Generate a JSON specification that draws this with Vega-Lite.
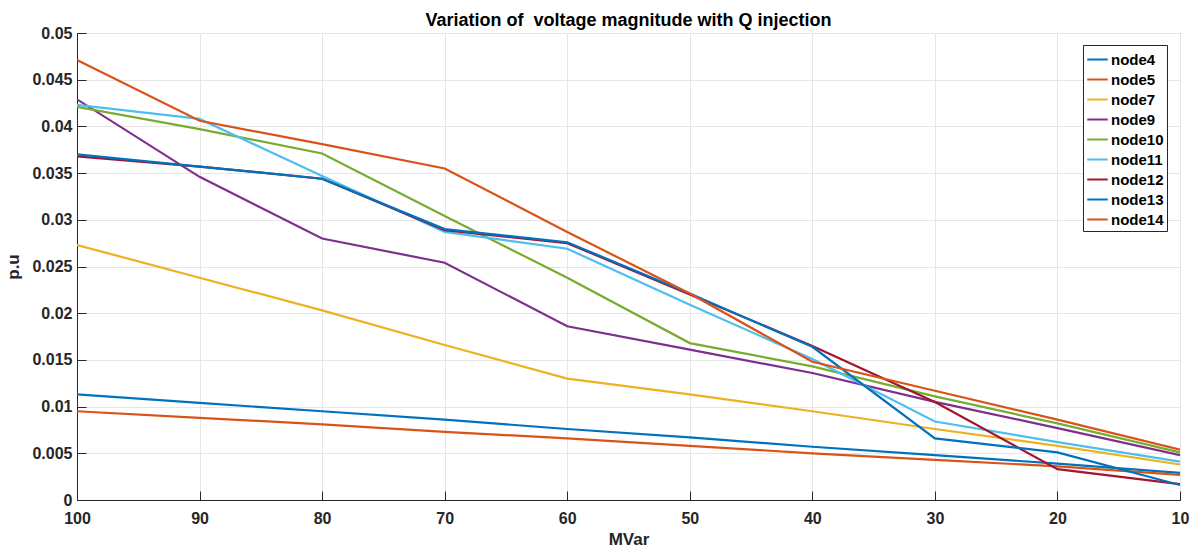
{
  "$schema": "https://vega.github.io/schema/vega-lite/v6.json",
  "width": 1103,
  "height": 467,
  "autosize": {"type": "none"},
  "padding": {"left": 77, "top": 33, "right": 20, "bottom": 53},
  "background": "white",
  "config": {
    "font": "Liberation Sans",
    "view": {"stroke": "#262626", "strokeWidth": 1}
  },
  "title": {
    "text": "Variation of\u00a0 voltage magnitude with Q injection",
    "font": "Liberation Sans",
    "fontSize": 18,
    "fontWeight": "bold",
    "color": "#000000",
    "anchor": "middle",
    "offset": -5
  },
  "data": {
    "values": [
      {"node": "node4", "mvar": 100, "pu": 0.0113},
      {"node": "node4", "mvar": 90, "pu": 0.0104},
      {"node": "node4", "mvar": 80, "pu": 0.0095},
      {"node": "node4", "mvar": 70, "pu": 0.0086},
      {"node": "node4", "mvar": 60, "pu": 0.0076},
      {"node": "node4", "mvar": 50, "pu": 0.0067},
      {"node": "node4", "mvar": 40, "pu": 0.0057},
      {"node": "node4", "mvar": 30, "pu": 0.0048},
      {"node": "node4", "mvar": 20, "pu": 0.0039},
      {"node": "node4", "mvar": 10, "pu": 0.0029},

      {"node": "node5", "mvar": 100, "pu": 0.0095},
      {"node": "node5", "mvar": 90, "pu": 0.0088},
      {"node": "node5", "mvar": 80, "pu": 0.0081},
      {"node": "node5", "mvar": 70, "pu": 0.0073},
      {"node": "node5", "mvar": 60, "pu": 0.0066},
      {"node": "node5", "mvar": 50, "pu": 0.0058},
      {"node": "node5", "mvar": 40, "pu": 0.0050},
      {"node": "node5", "mvar": 30, "pu": 0.0043},
      {"node": "node5", "mvar": 20, "pu": 0.0036},
      {"node": "node5", "mvar": 10, "pu": 0.0027},

      {"node": "node7", "mvar": 100, "pu": 0.0273},
      {"node": "node7", "mvar": 90, "pu": 0.0238},
      {"node": "node7", "mvar": 80, "pu": 0.0203},
      {"node": "node7", "mvar": 70, "pu": 0.0166},
      {"node": "node7", "mvar": 60, "pu": 0.0130},
      {"node": "node7", "mvar": 50, "pu": 0.0113},
      {"node": "node7", "mvar": 40, "pu": 0.0095},
      {"node": "node7", "mvar": 30, "pu": 0.0076},
      {"node": "node7", "mvar": 20, "pu": 0.0058},
      {"node": "node7", "mvar": 10, "pu": 0.0038},

      {"node": "node9", "mvar": 100, "pu": 0.0429},
      {"node": "node9", "mvar": 90, "pu": 0.0346},
      {"node": "node9", "mvar": 80, "pu": 0.0280},
      {"node": "node9", "mvar": 70, "pu": 0.0254},
      {"node": "node9", "mvar": 60, "pu": 0.0186},
      {"node": "node9", "mvar": 50, "pu": 0.0161},
      {"node": "node9", "mvar": 40, "pu": 0.0136},
      {"node": "node9", "mvar": 30, "pu": 0.0105},
      {"node": "node9", "mvar": 20, "pu": 0.0077},
      {"node": "node9", "mvar": 10, "pu": 0.0048},

      {"node": "node10", "mvar": 100, "pu": 0.0421},
      {"node": "node10", "mvar": 90, "pu": 0.0397},
      {"node": "node10", "mvar": 80, "pu": 0.0371},
      {"node": "node10", "mvar": 70, "pu": 0.0304},
      {"node": "node10", "mvar": 60, "pu": 0.0238},
      {"node": "node10", "mvar": 50, "pu": 0.0168},
      {"node": "node10", "mvar": 40, "pu": 0.0143},
      {"node": "node10", "mvar": 30, "pu": 0.0111},
      {"node": "node10", "mvar": 20, "pu": 0.0082},
      {"node": "node10", "mvar": 10, "pu": 0.0051},

      {"node": "node11", "mvar": 100, "pu": 0.0423},
      {"node": "node11", "mvar": 90, "pu": 0.0408},
      {"node": "node11", "mvar": 80, "pu": 0.0347},
      {"node": "node11", "mvar": 70, "pu": 0.0287},
      {"node": "node11", "mvar": 60, "pu": 0.0269},
      {"node": "node11", "mvar": 50, "pu": 0.0209},
      {"node": "node11", "mvar": 40, "pu": 0.0151},
      {"node": "node11", "mvar": 30, "pu": 0.0084},
      {"node": "node11", "mvar": 20, "pu": 0.0062},
      {"node": "node11", "mvar": 10, "pu": 0.0041},

      {"node": "node12", "mvar": 100, "pu": 0.0368},
      {"node": "node12", "mvar": 90, "pu": 0.0357},
      {"node": "node12", "mvar": 80, "pu": 0.0344},
      {"node": "node12", "mvar": 70, "pu": 0.0289},
      {"node": "node12", "mvar": 60, "pu": 0.0275},
      {"node": "node12", "mvar": 50, "pu": 0.0220},
      {"node": "node12", "mvar": 40, "pu": 0.0165},
      {"node": "node12", "mvar": 30, "pu": 0.0105},
      {"node": "node12", "mvar": 20, "pu": 0.0033},
      {"node": "node12", "mvar": 10, "pu": 0.0017},

      {"node": "node13", "mvar": 100, "pu": 0.0370},
      {"node": "node13", "mvar": 90, "pu": 0.0357},
      {"node": "node13", "mvar": 80, "pu": 0.0344},
      {"node": "node13", "mvar": 70, "pu": 0.0290},
      {"node": "node13", "mvar": 60, "pu": 0.0276},
      {"node": "node13", "mvar": 50, "pu": 0.0221},
      {"node": "node13", "mvar": 40, "pu": 0.0164},
      {"node": "node13", "mvar": 30, "pu": 0.0066},
      {"node": "node13", "mvar": 20, "pu": 0.0051},
      {"node": "node13", "mvar": 10, "pu": 0.0016},

      {"node": "node14", "mvar": 100, "pu": 0.0471},
      {"node": "node14", "mvar": 90, "pu": 0.0406},
      {"node": "node14", "mvar": 80, "pu": 0.0381},
      {"node": "node14", "mvar": 70, "pu": 0.0355},
      {"node": "node14", "mvar": 60, "pu": 0.0287},
      {"node": "node14", "mvar": 50, "pu": 0.0221},
      {"node": "node14", "mvar": 40, "pu": 0.0148},
      {"node": "node14", "mvar": 30, "pu": 0.0117},
      {"node": "node14", "mvar": 20, "pu": 0.0086},
      {"node": "node14", "mvar": 10, "pu": 0.0054}
    ]
  },
  "mark": {"type": "line", "strokeWidth": 2.2, "clip": true},
  "encoding": {
    "x": {
      "field": "mvar",
      "type": "quantitative",
      "scale": {"domain": [10, 100], "reverse": true, "nice": false, "zero": false},
      "axis": {
        "title": "MVar",
        "values": [100, 90, 80, 70, 60, 50, 40, 30, 20, 10],
        "titleFont": "Liberation Sans",
        "titleFontSize": 17,
        "titleFontWeight": "bold",
        "titleColor": "#262626",
        "titlePadding": 5,
        "labelFont": "Liberation Sans",
        "labelFontSize": 16,
        "labelFontWeight": "bold",
        "labelColor": "#262626",
        "labelPadding": 19,
        "labelFlush": false,
        "tickSize": -9,
        "tickColor": "#262626",
        "domainColor": "#262626",
        "grid": true,
        "gridColor": "#e6e6e6"
      }
    },
    "y": {
      "field": "pu",
      "type": "quantitative",
      "scale": {"domain": [0, 0.05], "nice": false},
      "axis": {
        "title": "p.u",
        "values": [0, 0.005, 0.01, 0.015, 0.02, 0.025, 0.03, 0.035, 0.04, 0.045, 0.05],
        "format": "~g",
        "titleFont": "Liberation Sans",
        "titleFontSize": 17,
        "titleFontWeight": "bold",
        "titleColor": "#262626",
        "titlePadding": 9,
        "labelFont": "Liberation Sans",
        "labelFontSize": 16,
        "labelFontWeight": "bold",
        "labelColor": "#262626",
        "labelPadding": 14,
        "tickSize": -9,
        "tickColor": "#262626",
        "domainColor": "#262626",
        "grid": true,
        "gridColor": "#e6e6e6"
      }
    },
    "color": {
      "field": "node",
      "type": "nominal",
      "scale": {
        "domain": ["node4", "node5", "node7", "node9", "node10", "node11", "node12", "node13", "node14"],
        "range": ["#0072BD", "#D95319", "#EDB120", "#7E2F8E", "#77AC30", "#4DBEEE", "#A2142F", "#0072BD", "#D95319"]
      },
      "legend": {
        "title": null,
        "orient": "none",
        "legendX": 1006,
        "legendY": 12,
        "symbolType": "stroke",
        "symbolStrokeWidth": 2,
        "symbolSize": 420,
        "labelFont": "Liberation Sans",
        "labelFontSize": 15,
        "labelFontWeight": "bold",
        "labelColor": "#000000",
        "rowPadding": 0,
        "labelOffset": 2,
        "padding": 3,
        "fillColor": "white",
        "strokeColor": "#262626"
      }
    }
  }
}
